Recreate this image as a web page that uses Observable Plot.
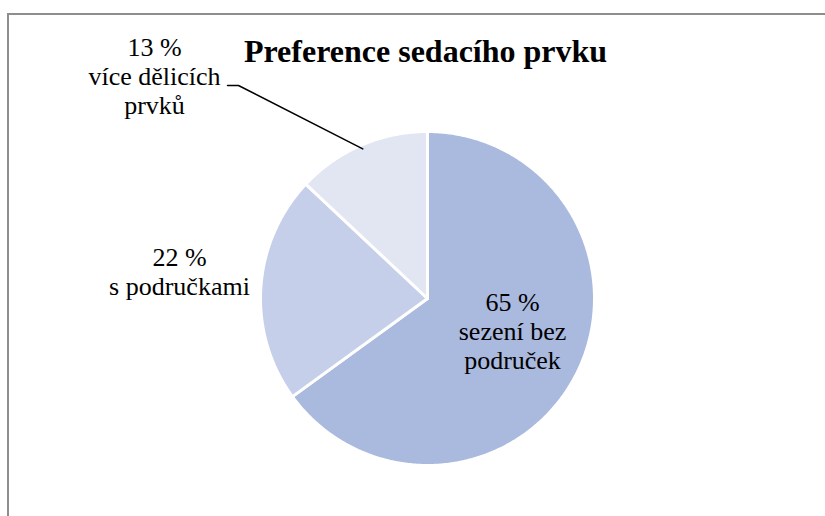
<!DOCTYPE html>
<html>
<head>
<meta charset="utf-8">
<script src="https://cdn.jsdelivr.net/npm/d3@7"></script>
<script src="https://cdn.jsdelivr.net/npm/@observablehq/plot@0.6"></script>
<style>
  html, body { margin: 0; padding: 0; background: #fff; overflow: hidden; }
  #wrap { position: relative; width: 825px; height: 516px; overflow: hidden; }
  #border { position: absolute; left: 6.5px; top: 12.5px; width: 900px; height: 600px;
            border-top: 2px solid #8e8e8e; border-left: 2px solid #8e8e8e; pointer-events: none; }
</style>
</head>
<body>
<div id="wrap"><div id="chart"></div><div id="border"></div></div>
<script>
// ---- data ----
const categories = ["sezení bez\npodruček", "s područkami", "více dělicích\nprvků"];
const values = [65, 22, 13];
const colors = ["#aab9de", "#c6cfe9", "#e2e6f3"];
const title = "Preference sedacího prvku";

// ---- layout ----
const W = 825, H = 516;
const cx = 427, cy = 298, R = 167;
const labelPos = [
  {x: 512, y: 330},
  {x: 179, y: 271},
  {x: 154, y: 75}
];
const font = "Liberation Serif";

const pie = d3.pie().sort(null).value(d => d.value)(
  categories.map((c, i) => ({category: c, value: values[i], color: colors[i], i}))
);

const slicePts = [];
for (const s of pie) {
  const n = Math.max(2, Math.ceil((s.endAngle - s.startAngle) / 0.01));
  slicePts.push({i: s.data.i, x: cx, y: cy, color: s.data.color});
  for (let k = 0; k <= n; k++) {
    const a = s.startAngle + (s.endAngle - s.startAngle) * k / n;
    slicePts.push({i: s.data.i, x: cx + R * Math.sin(a), y: cy - R * Math.cos(a), color: s.data.color});
  }
  slicePts.push({i: s.data.i, x: cx, y: cy, color: s.data.color});
}

const labels = pie.map(s => ({
  text: `${s.data.value} %\n${s.data.category}`,
  x: labelPos[s.data.i].x,
  y: labelPos[s.data.i].y
}));

const small = pie[2];
const mid = (small.startAngle + small.endAngle) / 2;
const rEdge = R - 4;
const leader = [
  {x: labelPos[2].x + 73, y: labelPos[2].y + 10},
  {x: labelPos[2].x + 84, y: labelPos[2].y + 10},
  {x: cx + rEdge * Math.sin(mid), y: cy - rEdge * Math.cos(mid)}
];

const chart = Plot.plot({
  width: W,
  height: H,
  margin: 0,
  x: {domain: [0, W], range: [0, W], axis: null},
  y: {domain: [0, H], range: [0, H], axis: null},
  style: {background: "#fff"},
  marks: [
    Plot.line(slicePts, {x: "x", y: "y", z: "i", fill: "color", stroke: "#fff", strokeWidth: 3, strokeLinejoin: "round", curve: "linear"}),
    Plot.line(leader, {x: "x", y: "y", stroke: "#000", strokeWidth: 1.5}),
    Plot.text(labels, {x: "x", y: "y", text: "text", lineAnchor: "middle", textAnchor: "middle",
      fontSize: 26, lineHeight: 1.115, fontFamily: font, fill: "#000"}),
    Plot.text([title], {x: () => 425, y: () => 51, text: d => d, lineAnchor: "middle", textAnchor: "middle",
      fontSize: 32, fontWeight: "bold", fontFamily: font, fill: "#000"})
  ]
});
document.getElementById("chart").append(chart);
</script>
</body>
</html>
